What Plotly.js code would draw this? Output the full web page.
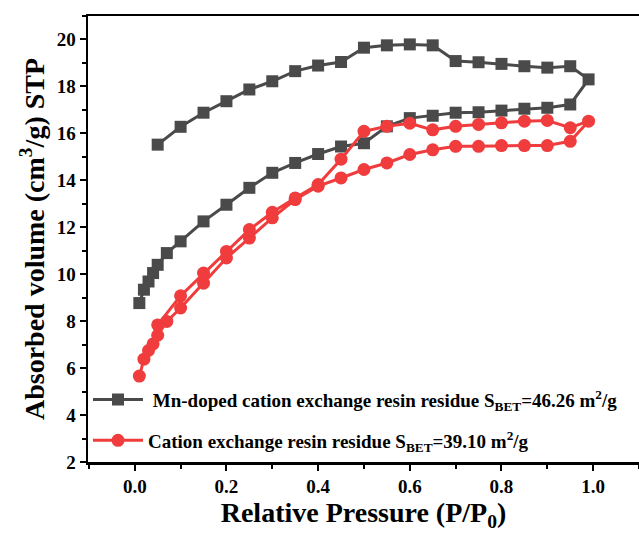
<!DOCTYPE html>
<html>
<head>
<meta charset="utf-8">
<script src="https://cdn.plot.ly/plotly-3.0.1.min.js"></script>
<style>html,body{margin:0;padding:0;background:#fff;} #chart{width:639px;height:537px;}</style>
</head>
<body>
<div id="chart"></div>
<script>
// Mn-doped cation exchange resin residue: adsorption then desorption branch
const mnAdsX = [0.01,0.02,0.03,0.04,0.05,0.07,0.10,0.15,0.20,0.25,0.30,0.35,0.40,0.45,0.50,0.55,0.60,0.65,0.70,0.75,0.80,0.85,0.90,0.95,0.99];
const mnAdsY = [8.77,9.34,9.69,10.05,10.40,10.90,11.40,12.25,12.96,13.68,14.32,14.74,15.12,15.44,15.58,16.30,16.65,16.75,16.88,16.90,16.97,17.05,17.09,17.23,18.30];
const mnDesX = [0.95,0.90,0.85,0.80,0.75,0.70,0.65,0.60,0.55,0.50,0.45,0.40,0.35,0.30,0.25,0.20,0.15,0.10,0.05];
const mnDesY = [18.86,18.80,18.86,18.96,19.03,19.08,19.75,19.79,19.75,19.65,19.04,18.89,18.65,18.22,17.87,17.37,16.88,16.28,15.52];

// Cation exchange resin residue: adsorption then desorption branch
const ceAdsX = [0.01,0.02,0.03,0.04,0.05,0.07,0.10,0.15,0.20,0.25,0.30,0.35,0.40,0.45,0.50,0.55,0.60,0.65,0.70,0.75,0.80,0.85,0.90,0.95,0.99];
const ceAdsY = [5.66,6.38,6.75,7.03,7.40,7.99,8.56,9.62,10.69,11.54,12.40,13.18,13.75,14.10,14.46,14.74,15.10,15.30,15.45,15.45,15.48,15.48,15.48,15.66,16.52];
const ceDesX = [0.95,0.90,0.85,0.80,0.75,0.70,0.65,0.60,0.55,0.50,0.45,0.40,0.35,0.30,0.25,0.20,0.15,0.10,0.05];
const ceDesY = [16.24,16.55,16.52,16.45,16.38,16.30,16.15,16.43,16.30,16.09,14.90,13.82,13.25,12.64,11.90,10.97,10.05,9.08,7.84];

const xTickVals = [0.0,0.2,0.4,0.6,0.8,1.0];
const xTickText = ['0.0','0.2','0.4','0.6','0.8','1.0'];
const yTickVals = [2,4,6,8,10,12,14,16,18,20];

const names = [
  ' Mn-doped cation exchange resin residue S<sub>BET</sub>=46.26 m<sup>2</sup>/g',
  'Cation exchange resin residue S<sub>BET</sub>=39.10 m<sup>2</sup>/g'
];

const serif = '"Liberation Serif", "Times New Roman", serif';
const grey = '#4a4a4a';
const red = '#f03c3c';

const traces = [
  {
    x: mnAdsX.concat(mnDesX), y: mnAdsY.concat(mnDesY),
    type: 'scatter', mode: 'lines+markers', name: names[0], legendgroup: 'a',
    line: {color: grey, width: 3},
    marker: {symbol: 'square', size: 12, color: grey}
  },
  {
    x: ceAdsX.concat(ceDesX), y: ceAdsY.concat(ceDesY),
    type: 'scatter', mode: 'lines+markers', name: names[1], legendgroup: 'b',
    line: {color: red, width: 3},
    marker: {symbol: 'circle', size: 13, color: red}
  }
];

const layout = {
  width: 639, height: 537,
  margin: {l: 88, r: 0, t: 16, b: 75},
  paper_bgcolor: '#fff', plot_bgcolor: '#fff',
  font: {family: serif, color: '#000'},
  showlegend: true,
  legend: {
    x: 0.0, y: 0.005, xanchor: 'left', yanchor: 'bottom',
    bgcolor: 'rgba(0,0,0,0)', borderwidth: 0,
    font: {family: serif, size: 19, color: '#000', weight: 'bold'},
    traceorder: 'grouped', tracegroupgap: 13, itemwidth: 50
  },
  xaxis: {
    range: [-0.102, 1.1],
    tickvals: xTickVals, ticktext: xTickText,
    ticks: 'outside', ticklen: 6, tickwidth: 2, tickcolor: '#000',
    minor: {ticks: 'outside', dtick: 0.1, tick0: 0, ticklen: 4, tickwidth: 2, tickcolor: '#000'},
    showline: true, linewidth: 2.5, linecolor: '#000', mirror: true,
    showgrid: false, zeroline: false,
    tickfont: {family: serif, size: 19, color: '#000', weight: 'bold'},
    title: {text: 'Relative Pressure (P/P<sub>0</sub>)', font: {family: serif, size: 28, color: '#000', weight: 'bold'}, standoff: 6}
  },
  yaxis: {
    range: [2, 21],
    tickvals: yTickVals,
    ticks: 'outside', ticklen: 6, tickwidth: 2, tickcolor: '#000',
    minor: {ticks: 'outside', dtick: 1, tick0: 0, ticklen: 4, tickwidth: 2, tickcolor: '#000'},
    showline: true, linewidth: 2.5, linecolor: '#000', mirror: false,
    showgrid: false, zeroline: false,
    tickfont: {family: serif, size: 19, color: '#000', weight: 'bold'},
    title: {text: 'Absorbed volume (cm<sup>3</sup>/g) STP', font: {family: serif, size: 28, color: '#000', weight: 'bold'}, standoff: 4}
  }
};

Plotly.newPlot('chart', traces, layout, {staticPlot: true, displayModeBar: false});
</script>
</body>
</html>
